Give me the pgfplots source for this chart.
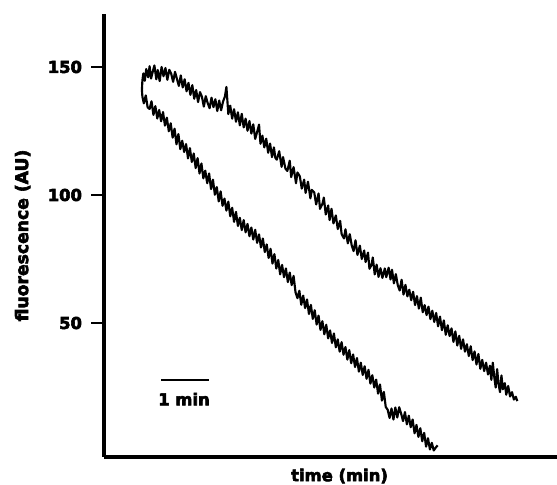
\documentclass[border=0pt]{standalone}
\usepackage{fontspec}
\setmainfont{DejaVu Sans}
\newfontfamily\heavyfont{DejaVu Sans}[BoldFeatures={FakeBold=3.5}]
\usepackage{pgfplots}
\pgfplotsset{compat=1.18}
\usetikzlibrary{calc}

\newcommand{\lblfont}{\fontsize{12.3}{14}\heavyfont\bfseries}

\begin{document}
\begin{tikzpicture}
\begin{axis}[
  scale only axis, width=339.75pt, height=332.25pt,
  xmin=0, xmax=9.4375, ymin=-2.34, ymax=170.7,
  axis x line*=bottom, axis y line*=left,
  axis line style={-, line width=2.4pt},
  xtick=\empty, ytick={50,100,150},
  tick align=outside, major tick length=9.5pt,
  tick style={line width=1.7pt, black},
  /pgf/number format/assume math mode=true,
  ticklabel style={font=\lblfont},
  yticklabel style={xshift=-3.5pt},
  xlabel={time (min)}, ylabel={fluorescence (AU)},
  label style={font=\lblfont},
  xlabel style={at={(axis description cs:0.52,-0.043)}, anchor=center},
  ylabel style={at={(axis description cs:-0.1795,0.5)}, anchor=center, rotate=0,
    font=\fontsize{12.9}{14}\heavyfont\bfseries},
  clip=false,
]
% upper trace
\addplot[black, line width=1.6pt, line join=round] coordinates {
(0.79,141.0)(0.80,144.8)(0.82,147.5)(0.85,144.6)(0.88,149.2)(0.92,146.0)(0.95,150.3)(0.98,145.5)
(1.02,148.5)(1.05,150.6)(1.09,145.2)(1.12,148.8)(1.16,144.5)(1.20,150.0)(1.24,146.4)(1.28,149.6)
(1.32,145.0)(1.36,148.9)(1.40,147.4)(1.44,144.2)(1.48,148.1)(1.52,145.3)(1.56,142.6)(1.60,146.7)
(1.64,142.0)(1.68,145.2)(1.72,140.5)(1.76,143.8)(1.80,139.1)(1.84,142.9)(1.88,137.6)(1.92,141.0)
(1.96,136.3)(2.00,140.2)(2.04,138.4)(2.08,134.5)(2.12,138.6)(2.16,135.9)(2.20,133.9)(2.24,138.0)
(2.28,134.3)(2.32,137.4)(2.36,132.8)(2.40,136.9)(2.44,133.1)(2.48,136.5)(2.52,138.5)(2.55,142.2)
(2.57,137.0)(2.59,131.6)(2.63,134.9)(2.67,129.8)(2.71,133.5)(2.75,128.6)(2.79,132.3)(2.83,127.2)
(2.87,131.7)(2.91,126.4)(2.95,129.8)(2.99,125.1)(3.03,128.9)(3.07,124.0)(3.11,127.6)(3.15,121.9)
(3.19,124.6)(3.23,127.5)(3.26,120.0)(3.30,123.2)(3.34,118.6)(3.38,122.0)(3.42,116.5)(3.46,120.1)
(3.50,114.8)(3.54,118.6)(3.57,114.5)(3.60,113.8)(3.65,117.1)(3.70,111.0)(3.73,114.8)(3.78,110.3)
(3.82,109.4)(3.87,113.4)(3.90,107.0)(3.95,110.9)(4.00,104.6)(4.03,108.8)(4.08,107.3)(4.12,102.5)
(4.17,106.0)(4.20,100.8)(4.25,105.2)(4.30,98.7)(4.33,102.0)(4.38,101.0)(4.42,96.3)(4.47,100.6)
(4.50,94.6)(4.55,96.5)(4.58,99.0)(4.62,92.4)(4.67,95.9)(4.70,90.2)(4.74,94.6)(4.78,88.9)
(4.83,92.0)(4.87,86.7)(4.92,89.9)(4.95,84.8)(5.00,83.0)(5.03,86.6)(5.08,81.1)(5.12,84.7)
(5.16,80.4)(5.20,78.1)(5.24,82.3)(5.28,76.6)(5.33,80.2)(5.37,75.0)(5.42,78.3)(5.45,73.8)
(5.50,77.5)(5.53,71.2)(5.57,72.5)(5.60,75.6)(5.64,69.0)(5.68,72.8)(5.72,68.0)(5.76,71.4)
(5.80,67.6)(5.85,71.3)(5.88,67.9)(5.93,71.6)(5.97,67.0)(6.00,70.8)(6.04,65.5)(6.08,69.1)
(6.12,64.8)(6.16,62.7)(6.20,66.9)(6.24,61.1)(6.28,64.9)(6.32,60.4)(6.36,63.0)(6.40,58.9)
(6.44,62.2)(6.48,57.0)(6.52,60.5)(6.56,55.6)(6.60,59.9)(6.64,54.2)(6.68,57.0)(6.72,53.1)
(6.76,56.4)(6.80,51.5)(6.84,54.8)(6.88,50.4)(6.92,53.9)(6.96,48.7)(7.00,52.5)(7.04,47.2)
(7.08,51.0)(7.12,45.4)(7.16,49.1)(7.20,44.9)(7.24,47.9)(7.28,42.6)(7.32,46.7)(7.36,41.2)
(7.40,45.0)(7.44,39.9)(7.48,43.6)(7.52,38.8)(7.56,41.7)(7.60,37.1)(7.64,40.9)(7.68,35.5)
(7.72,38.9)(7.76,33.8)(7.80,37.9)(7.84,32.1)(7.88,35.6)(7.92,31.2)(7.96,34.5)(8.00,29.9)
(8.04,33.3)(8.07,27.8)(8.10,34.5)(8.13,29.0)(8.16,24.8)(8.19,32.0)(8.22,26.2)(8.25,23.0)
(8.28,29.5)(8.31,24.1)(8.35,26.5)(8.38,22.0)(8.42,25.4)(8.46,21.3)(8.50,23.0)(8.54,20.1)
(8.58,21.2)(8.61,19.5)
};
% lower trace
\addplot[black, line width=1.6pt, line join=round] coordinates {
(0.79,141.0)(0.80,138.4)(0.83,135.8)(0.87,138.9)(0.91,134.2)(0.95,133.6)(0.99,136.6)(1.03,131.3)
(1.07,134.7)(1.11,129.9)(1.15,133.2)(1.19,128.8)(1.23,132.4)(1.27,127.1)(1.31,130.2)(1.35,124.9)
(1.39,128.0)(1.43,122.4)(1.47,125.9)(1.51,119.8)(1.55,123.8)(1.59,117.9)(1.63,121.2)(1.67,116.8)
(1.71,119.9)(1.75,114.3)(1.79,118.3)(1.83,112.9)(1.87,116.2)(1.91,110.5)(1.95,114.4)(1.99,108.4)
(2.03,112.3)(2.07,106.5)(2.11,109.5)(2.15,104.6)(2.19,108.4)(2.23,102.3)(2.27,106.0)(2.31,100.1)
(2.35,103.1)(2.39,97.5)(2.43,101.4)(2.47,95.8)(2.51,98.6)(2.55,93.9)(2.59,97.4)(2.63,91.7)
(2.67,95.0)(2.71,89.5)(2.75,93.4)(2.79,87.9)(2.83,91.1)(2.87,86.3)(2.91,90.2)(2.95,85.4)
(2.99,88.7)(3.03,83.9)(3.07,87.3)(3.11,82.6)(3.15,86.4)(3.19,81.3)(3.23,84.6)(3.27,79.5)
(3.31,83.0)(3.35,77.7)(3.39,80.7)(3.43,75.4)(3.47,79.0)(3.51,73.2)(3.55,76.9)(3.59,71.3)
(3.63,74.6)(3.67,69.0)(3.71,72.7)(3.75,67.9)(3.79,71.3)(3.83,66.0)(3.87,69.7)(3.91,64.8)
(3.95,68.4)(3.99,62.0)(4.03,59.7)(4.07,62.6)(4.11,57.1)(4.15,60.7)(4.19,55.8)(4.23,59.2)
(4.27,53.5)(4.31,57.1)(4.35,51.6)(4.39,55.0)(4.43,49.4)(4.47,52.9)(4.51,47.3)(4.55,50.7)
(4.59,45.6)(4.63,49.3)(4.67,44.0)(4.71,47.1)(4.75,42.2)(4.79,45.9)(4.83,40.5)(4.87,43.6)
(4.91,38.8)(4.95,42.5)(4.99,37.6)(5.03,40.6)(5.07,35.7)(5.11,39.4)(5.15,34.3)(5.19,37.7)
(5.23,32.8)(5.27,36.3)(5.31,31.0)(5.35,34.5)(5.39,29.7)(5.43,33.1)(5.47,28.2)(5.51,31.7)
(5.55,26.3)(5.59,29.6)(5.63,24.8)(5.67,27.9)(5.71,22.4)(5.75,26.0)(5.79,19.7)(5.83,23.1)
(5.87,17.2)(5.91,16.1)(5.95,12.9)(5.99,16.6)(6.03,12.3)(6.07,17.0)(6.11,13.1)(6.15,17.1)
(6.19,14.6)(6.23,11.7)(6.27,15.2)(6.31,10.4)(6.35,13.8)(6.39,9.3)(6.43,12.3)(6.47,6.9)
(6.51,10.2)(6.55,5.5)(6.59,8.9)(6.63,3.8)(6.67,7.1)(6.71,1.7)(6.75,5.0)(6.79,0.6)
(6.83,3.2)(6.87,0.2)(6.91,1.3)(6.95,2.2)
};
% scale bar
\draw[line width=2pt] (axis cs:1.19,27.7) -- (axis cs:2.19,27.7);
\node[font=\lblfont, anchor=center] at (axis cs:1.667,20.3) {1 min};
\end{axis}
\pgfresetboundingbox
\path[use as bounding box] ($(current axis.south west)+(-78pt,-21pt)$) rectangle ($(current axis.north east)+(0,10.5pt)$);
\end{tikzpicture}
\end{document}
